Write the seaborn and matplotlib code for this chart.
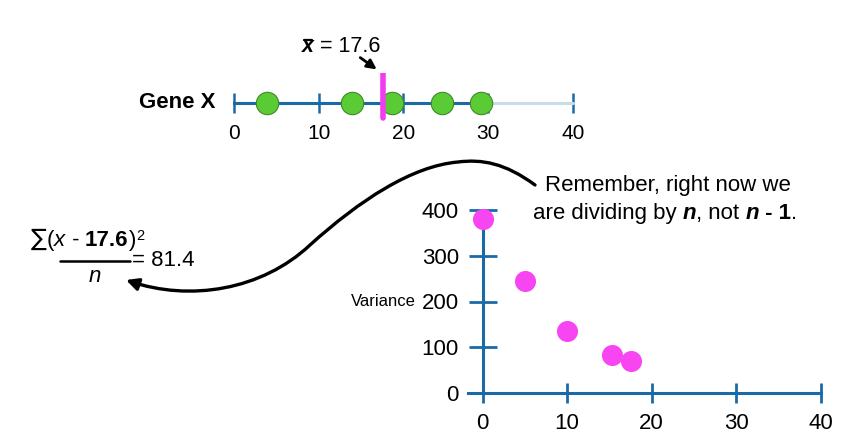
import numpy as np
import pandas as pd
import seaborn as sns
import matplotlib.pyplot as plt
from matplotlib.patches import FancyArrowPatch
from matplotlib.path import Path

# data
gene_x = [3.9, 13.9, 18.6, 24.5, 29.2]
gene_mean = 17.6
line_ticks = [0, 10, 20, 30, 40]

guess_x = [0, 5, 10, 15.3, 17.6]
variance = [380, 245, 135, 82, 70]
var_xticks = [0, 10, 20, 30, 40]
var_yticks = [0, 100, 200, 300, 400]

BLUE = "#1b6aa8"
LIGHT = "#c9dcea"
GREEN = "#5acb35"
PINK = "#f845f2"

sns.set_theme(style="white")
plt.rcParams["font.family"] = ["Liberation Sans", "DejaVu Sans"]
plt.rcParams["text.color"] = "black"

W, H = 848, 446
fig = plt.figure(figsize=(W / 100, H / 100), dpi=100)

# overlay in pixel units for the free text and arrows
ov = fig.add_axes([0, 0, 1, 1])
ov.set_xlim(0, W)
ov.set_ylim(H, 0)
ov.axis("off")


def px_axes(x0, x1, y_top, y_bot):
    return fig.add_axes([x0 / W, 1 - y_bot / H, (x1 - x0) / W, (y_bot - y_top) / H])


def chain(x, y, pieces, size=16):
    # write pieces one after another on the same line
    kw = dict(pieces[0][1])
    fs = kw.pop("fontsize", size)
    t = ov.text(x, y, pieces[0][0], ha="left", va="baseline", fontsize=fs, **kw)
    for s, kw in pieces[1:]:
        kw = dict(kw)
        dy = kw.pop("dy", 0)
        fs = kw.pop("fontsize", size)
        t = ov.annotate(s, xy=(1, 0), xycoords=t, xytext=(0, dy),
                        textcoords="offset points", ha="left", va="bottom",
                        fontsize=fs, **kw)
    return t


# ---------- top number line ----------
ppu = (573 - 234) / 40
ax1 = px_axes(234 - 4 * ppu, 234 + 44 * ppu, 73, 133)
ax1.set_xlim(-4, 44)
ax1.set_ylim(-1, 1)
ax1.patch.set_alpha(0)
for s in ["top", "right", "left"]:
    ax1.spines[s].set_visible(False)
ax1.spines["bottom"].set_position(("data", 0))
ax1.spines["bottom"].set_bounds(0, 30)
ax1.spines["bottom"].set_color(BLUE)
ax1.spines["bottom"].set_linewidth(2.2)
ax1.plot([30, 40], [0, 0], color=LIGHT, lw=2.2, zorder=1)
ax1.set_xticks(line_ticks)
ax1.set_yticks([])
ax1.tick_params(axis="x", direction="inout", length=14, width=1.8, color=BLUE,
                labelcolor="black", labelsize=15, pad=8, bottom=True)
for t in ax1.xaxis.get_major_ticks():
    if t.get_loc() == 40:
        t.tick1line.set_color(LIGHT)
        t.label1.set_color("#c8c8c8")
sns.scatterplot(x=gene_x, y=[0] * len(gene_x), ax=ax1, s=260, color=GREEN,
                edgecolor="#3f8a2c", linewidth=0.8, zorder=3, clip_on=False)
ax1.axvline(gene_mean, ymin=0.25, ymax=1, color="#f23cf0", lw=4, zorder=4)
ax1.text(-2.2, 0, "Gene X", ha="right", va="center", fontsize=16, fontweight="bold")

# x-bar label with its arrow
chain(302, 52, [("x", dict(fontweight="bold", fontstyle="italic")),
                (" = 17.6", {})], size=15.5)
ov.plot([303.5, 312], [39.5, 39.5], color="black", lw=1.6)
ov.add_patch(FancyArrowPatch((358, 56), (379, 71), arrowstyle="-|>",
                             mutation_scale=14, lw=2, color="black"))

# ---------- variance plot ----------
px = (821 - 482.5) / 40
py = (393 - 210) / 400
ax2 = px_axes(482.5 - 2 * px, 482.5 + 42 * px, 210 - 20 * py, 393 + 10 * py)
ax2.set_xlim(-2, 42)
ax2.set_ylim(-10, 420)
ax2.patch.set_alpha(0)
for s in ["top", "right"]:
    ax2.spines[s].set_visible(False)
ax2.spines["left"].set_position(("data", 0))
ax2.spines["bottom"].set_position(("data", 0))
ax2.spines["left"].set_bounds(0, 400)
ax2.spines["bottom"].set_bounds(-1.7, 40)
for s in ["left", "bottom"]:
    ax2.spines[s].set_color(BLUE)
    ax2.spines[s].set_linewidth(2.2)
ax2.set_xticks(var_xticks)
ax2.set_yticks(var_yticks)
ax2.tick_params(axis="x", direction="inout", length=14, width=2, color=BLUE,
                labelcolor="black", labelsize=16, pad=7.5, bottom=True)
ax2.tick_params(axis="y", direction="inout", length=20, width=2, color=BLUE,
                labelcolor="black", labelsize=16, pad=7, left=True)
sns.scatterplot(x=guess_x, y=variance, ax=ax2, s=230, color=PINK, linewidth=0,
                zorder=3, clip_on=False)
ov.text(416, 301, "Variance", ha="right", va="center", fontsize=12)

# ---------- annotations ----------
ov.text(668, 186, "Remember, right now we", ha="center", va="center", fontsize=16)
chain(533, 219, [("are dividing by ", {}),
                 ("n", dict(fontweight="bold", fontstyle="italic")),
                 (", not ", {}),
                 ("n", dict(fontweight="bold", fontstyle="italic")),
                 (" - 1", dict(fontweight="bold")),
                 (".", {})])

chain(31, 246, [("\u2211", dict(family=["DejaVu Sans"], fontsize=17)),
                ("(", dict(fontsize=16)),
                ("x", dict(fontstyle="italic")),
                (" - ", {}),
                ("17.6", dict(fontweight="bold")),
                (")", {}),
                ("2", dict(fontsize=10.5, dy=6))], size=16)
ov.plot([60, 130], [261, 261], color="black", lw=1.8)
ov.text(95, 277, "n", ha="center", va="center", fontsize=16, fontstyle="italic")
ov.text(132, 261, "= 81.4", ha="left", va="center", fontsize=16)

verts = [(535, 185), (505, 163), (482, 159), (458, 162),
         (412, 166), (360, 200), (310, 245),
         (262, 290), (190, 302), (126, 280)]
codes = [Path.MOVETO] + [Path.CURVE4] * 9
ov.add_patch(FancyArrowPatch(path=Path(verts, codes), arrowstyle="-|>",
                             mutation_scale=18, lw=2.4, color="black"))

fig.savefig("out.png", dpi=100)
